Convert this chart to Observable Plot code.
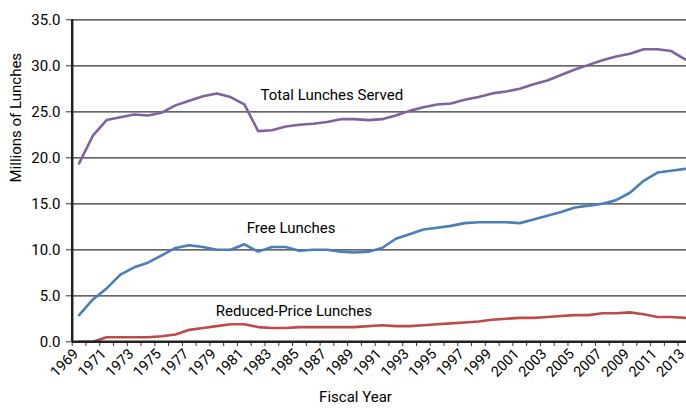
<!DOCTYPE html>
<html>
<head>
<meta charset="utf-8">
<script src="https://cdn.jsdelivr.net/npm/d3@7"></script>
<script src="https://cdn.jsdelivr.net/npm/@observablehq/plot@0.6"></script>
<style>
  html, body { margin: 0; padding: 0; background: #fff; }
  #chart svg { display: block; }
</style>
</head>
<body>
<div id="chart"></div>
<script>
const years = d3.range(1969, 2014);
const totalLunches = [19.4, 22.4, 24.1, 24.4, 24.7, 24.6, 24.9, 25.7, 26.2, 26.7, 27.0, 26.6, 25.8, 22.9, 23.0, 23.4, 23.6, 23.7, 23.9, 24.2, 24.2, 24.1, 24.2, 24.6, 25.1, 25.5, 25.8, 25.9, 26.3, 26.6, 27.0, 27.2, 27.5, 28.0, 28.4, 29.0, 29.6, 30.1, 30.6, 31.0, 31.3, 31.8, 31.8, 31.6, 30.7];
const freeLunches = [2.9, 4.6, 5.8, 7.3, 8.1, 8.6, 9.4, 10.2, 10.5, 10.3, 10.0, 10.0, 10.6, 9.8, 10.3, 10.3, 9.9, 10.0, 10.0, 9.8, 9.7, 9.8, 10.2, 11.2, 11.7, 12.2, 12.4, 12.6, 12.9, 13.0, 13.0, 13.0, 12.9, 13.3, 13.7, 14.1, 14.6, 14.8, 15.0, 15.4, 16.2, 17.5, 18.4, 18.6, 18.8];
const reducedLunches = [0.0, 0.0, 0.5, 0.5, 0.5, 0.5, 0.6, 0.8, 1.3, 1.5, 1.7, 1.9, 1.9, 1.6, 1.5, 1.5, 1.6, 1.6, 1.6, 1.6, 1.6, 1.7, 1.8, 1.7, 1.7, 1.8, 1.9, 2.0, 2.1, 2.2, 2.4, 2.5, 2.6, 2.6, 2.7, 2.8, 2.9, 2.9, 3.1, 3.1, 3.2, 3.0, 2.7, 2.7, 2.6];
const yTicks = [0, 5, 10, 15, 20, 25, 30, 35];
const xTickLabels = d3.range(1969, 2014, 2);
const seriesNames = ["Total Lunches Served", "Free Lunches", "Reduced-Price Lunches"];
const seriesColors = ["#7e62a1", "#4a7ebb", "#be4b48"];
const labelYears = [1987.35, 1984.4, 1984.6];
const labelValues = [26.8, 12.4, 3.3];

const seriesValues = [totalLunches, freeLunches, reducedLunches];
const rows = seriesValues.flatMap((vals, i) => vals.map((v, j) => ({series: seriesNames[i], year: years[j], value: v})));
const labels = seriesNames.map((s, i) => ({name: s, year: labelYears[i], value: labelValues[i]}));
const boundaries = d3.range(1968.5, 2014, 1);

const chart = Plot.plot({
  width: 686,
  height: 409,
  marginLeft: 72,
  marginRight: 0,
  marginTop: 19,
  marginBottom: 68,
  style: {fontFamily: "Roboto, sans-serif", fontSize: "14px", color: "#000"},
  x: {domain: [1968.5, 2013.5], range: [71.7, 691.4]},
  y: {domain: [0, 35], range: [341.3, 19.3]},
  color: {domain: seriesNames, range: seriesColors},
  marks: [
    Plot.ruleY(yTicks.filter(d => d > 0), {stroke: "#333", strokeWidth: 1.2}),
    Plot.line(rows, {x: "year", y: "value", z: "series", stroke: "series", strokeWidth: 2.6, curve: "linear"}),
    Plot.text(labels, {x: "year", y: "value", text: "name", fontSize: 15, fill: "#000"}),
    Plot.axisY({ticks: yTicks, tickFormat: d => d.toFixed(1), tickSize: 6, tickPadding: 6, fontSize: 15, label: null, stroke: "#333"}),
    Plot.axisX({ticks: boundaries, tickFormat: () => "", tickSize: 5, label: null, stroke: "#333"}),
    Plot.axisX({ticks: xTickLabels, tickFormat: d => String(d), tickSize: 0, tickPadding: 10, tickRotate: -45, fontSize: 14.5, dx: -3, label: null}),
    Plot.ruleY([0], {stroke: "#222", strokeWidth: 2.5}),
    Plot.ruleX([1968.5], {y1: 0, y2: 35, stroke: "#222", strokeWidth: 2.5}),
    Plot.text(["Fiscal Year"], {frameAnchor: "bottom", dx: -24, dy: 60, fontSize: 15, fill: "#000"}),
    Plot.text(["Millions of Lunches"], {frameAnchor: "left", rotate: -90, dx: -56, dy: 2, fontSize: 15, fill: "#000"})
  ]
});
document.getElementById("chart").appendChild(chart);
</script>
</body>
</html>
